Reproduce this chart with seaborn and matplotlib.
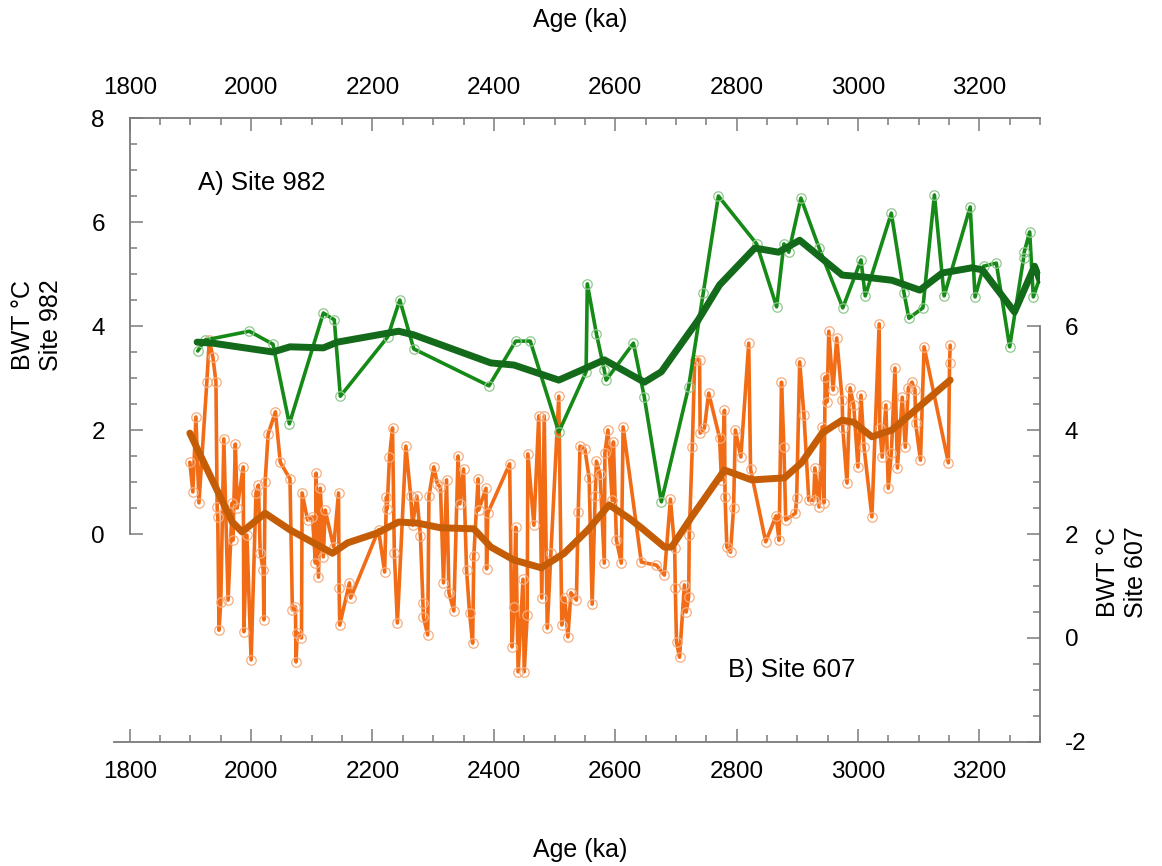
import matplotlib
matplotlib.use("Agg")
import matplotlib.pyplot as plt
import seaborn as sns
from matplotlib.ticker import FixedLocator, MultipleLocator

# ---------------- data ----------------
# Site 982 (left axis, BWT degC)
g_age = [1912, 1924, 1997, 2036, 2063, 2119, 2137, 2147, 2225, 2245, 2268, 2392,
         2436, 2460, 2507, 2552, 2554, 2569, 2582, 2585, 2630, 2648, 2676, 2721,
         2745, 2770, 2833, 2866, 2878, 2886, 2906, 2936, 2975, 3005, 3012, 3055,
         3076, 3084, 3107, 3126, 3142, 3185, 3193, 3207, 3228, 3250, 3273, 3274,
         3283, 3289, 3300]
g_bwt = [3.52, 3.73, 3.90, 3.65, 2.12, 4.25, 4.12, 2.65, 3.79, 4.50, 3.56, 2.85,
         3.71, 3.71, 1.96, 3.12, 4.81, 3.85, 3.15, 2.96, 3.67, 2.63, 0.62, 2.83,
         4.63, 6.50, 5.58, 4.37, 5.58, 5.42, 6.46, 5.50, 4.35, 5.27, 4.58, 6.17,
         4.63, 4.15, 4.35, 6.52, 4.58, 6.29, 4.56, 5.15, 5.21, 3.60, 5.31, 5.42,
         5.81, 4.56, 4.94]
# Site 982 smoothed
gs_age = [1911, 1937, 2036, 2064, 2119, 2142, 2243, 2268, 2395, 2433, 2507, 2544,
          2582, 2648, 2676, 2737, 2772, 2830, 2869, 2904, 2974, 3012, 3056, 3102,
          3139, 3188, 3205, 3258, 3291, 3300]
gs_bwt = [3.69, 3.67, 3.50, 3.60, 3.58, 3.69, 3.90, 3.83, 3.29, 3.25, 2.96, 3.15,
          3.35, 2.92, 3.12, 4.12, 4.79, 5.50, 5.42, 5.65, 4.98, 4.94, 4.88, 4.69,
          5.02, 5.12, 5.08, 4.27, 5.15, 4.88]

# Site 607 (right axis, BWT degC)
o_age = [1899, 1904, 1909, 1914, 1927, 1931, 1937, 1942, 1944, 1945, 1947, 1950,
         1955, 1962, 1969, 1970, 1974, 1977, 1987, 1988, 1993, 2000, 2008, 2012,
         2015, 2020, 2021, 2023, 2028, 2040, 2048, 2064, 2068, 2073, 2074, 2076,
         2083, 2084, 2093, 2101, 2106, 2107, 2111, 2114, 2119, 2122, 2136, 2144,
         2145, 2146, 2162, 2164, 2210, 2220, 2223, 2224, 2228, 2233, 2236, 2241,
         2255, 2263, 2266, 2273, 2279, 2283, 2284, 2291, 2293, 2301, 2307, 2312,
         2317, 2322, 2326, 2334, 2341, 2344, 2350, 2355, 2360, 2365, 2367, 2374,
         2375, 2387, 2388, 2390, 2426, 2430, 2433, 2436, 2440, 2448, 2450, 2455,
         2456, 2466, 2474, 2479, 2483, 2488, 2494, 2507, 2512, 2517, 2522, 2527,
         2536, 2539, 2542, 2550, 2557, 2562, 2567, 2569, 2575, 2582, 2583, 2588,
         2595, 2597, 2602, 2610, 2613, 2643, 2668, 2681, 2691, 2698, 2699, 2701,
         2706, 2714, 2717, 2721, 2722, 2727, 2731, 2739, 2740, 2747, 2754, 2772,
         2775, 2780, 2781, 2784, 2790, 2795, 2798, 2807, 2820, 2823, 2848, 2865,
         2870, 2874, 2878, 2881, 2897, 2899, 2904, 2911, 2919, 2927, 2929, 2936,
         2941, 2944, 2946, 2949, 2952, 2959, 2965, 2974, 2975, 2982, 2987, 2993,
         3000, 3005, 3010, 3023, 3035, 3036, 3040, 3046, 3050, 3055, 3061, 3065,
         3073, 3078, 3083, 3089, 3094, 3095, 3103, 3109, 3149, 3151, 3152]
o_bwt = [3.38, 2.81, 4.25, 2.60, 4.92, 5.73, 5.40, 4.92, 2.52, 2.33, 0.15, 0.69,
         3.83, 0.73, 2.60, 1.88, 3.73, 2.50, 3.29, 0.12, 1.98, -0.42, 2.79, 2.94,
         1.63, 1.31, 0.35, 3.00, 3.92, 4.35, 3.38, 3.06, 0.54, 0.60, -0.46, 0.10,
         0.00, 2.79, 2.27, 2.33, 1.44, 3.17, 1.17, 2.88, 1.56, 2.46, 1.75, 2.79,
         0.96, 0.25, 1.06, 0.77, 2.08, 1.27, 2.71, 2.48, 3.48, 4.04, 1.63, 0.29,
         3.69, 2.73, 2.17, 2.73, 1.96, 0.67, 0.40, 0.06, 2.73, 3.29, 2.96, 2.90,
         1.06, 3.04, 0.87, 0.52, 3.50, 2.58, 3.25, 1.31, 0.48, -0.10, 1.58, 3.06,
         2.46, 2.88, 1.33, 2.40, 3.35, -0.17, 0.60, 2.13, -0.65, 1.13, -0.65, 0.44,
         3.54, 2.17, 4.27, 0.77, 4.27, 0.19, 1.63, 4.65, 0.25, 0.77, 0.02, 0.87,
         0.73, 2.42, 3.69, 3.63, 3.08, 0.65, 2.73, 3.40, 3.15, 1.44, 3.56, 4.00,
         2.65, 3.77, 1.88, 1.44, 4.06, 1.46, 1.40, 1.21, 2.67, 1.73, 0.96, -0.08,
         -0.37, 1.02, 0.50, 0.79, 1.98, 3.67, 5.35, 5.35, 3.94, 4.04, 4.71, 3.85,
         3.04, 4.38, 2.71, 1.75, 1.65, 2.50, 4.00, 3.48, 5.67, 3.25, 1.85, 2.35,
         1.88, 4.92, 3.67, 2.27, 2.40, 2.69, 5.31, 4.29, 2.65, 2.65, 3.27, 2.52,
         4.06, 2.60, 5.02, 4.54, 5.90, 4.77, 5.77, 4.58, 4.04, 2.98, 4.81, 4.48,
         3.29, 4.67, 3.67, 2.33, 6.04, 4.04, 3.48, 4.48, 2.88, 3.56, 5.19, 3.27,
         4.63, 3.67, 4.81, 4.92, 4.77, 4.13, 3.42, 5.60, 3.37, 5.29, 5.63]
# Site 607 smoothed
os_age = [1899, 1969, 1985, 2023, 2064, 2134, 2159, 2208, 2243, 2274, 2312, 2367,
          2395, 2433, 2478, 2516, 2555, 2590, 2622, 2643, 2681, 2693, 2726, 2780,
          2825, 2879, 2907, 2941, 2974, 2993, 3023, 3056, 3094, 3152]
os_bwt = [3.94, 2.23, 2.04, 2.40, 2.08, 1.63, 1.83, 2.02, 2.23, 2.21, 2.12, 2.10,
          1.75, 1.50, 1.35, 1.63, 2.08, 2.56, 2.31, 2.12, 1.75, 1.75, 2.33, 3.23,
          3.04, 3.08, 3.37, 3.94, 4.19, 4.15, 3.87, 4.00, 4.38, 4.96]

left_major = [0, 2, 4, 6, 8]
right_major = [-2, 0, 2, 4, 6]
x_major = [1800, 2000, 2200, 2400, 2600, 2800, 3000, 3200]

# ---------------- style ----------------
sns.set_style("ticks")
plt.rcParams["font.family"] = ["Liberation Sans", "DejaVu Sans"]
plt.rcParams["axes.unicode_minus"] = False
plt.rcParams["text.color"] = "black"
plt.rcParams["axes.labelcolor"] = "black"
plt.rcParams["xtick.labelcolor"] = "black"
plt.rcParams["ytick.labelcolor"] = "black"

GREEN = "#168a16"
GREEN_DARK = "#136a1a"
GREEN_MK = "#8fc98f"
ORANGE = "#f26c16"
ORANGE_DARK = "#c55c06"
ORANGE_MK = "#f6ae80"
AX_GREY = "#7a7a7a"

fig = plt.figure(figsize=(11.62, 8.66), dpi=100)
ax = fig.add_axes([0.0981, 0.1432, 0.7969, 0.7205])
ax2 = ax.twinx()

# orange series on right axis
sns.lineplot(x=o_age, y=o_bwt, ax=ax2, estimator=None, sort=False, color=ORANGE,
             lw=2.6, marker="o", markersize=6.8, markerfacecolor="none",
             markeredgecolor=ORANGE_MK, markeredgewidth=0.9, zorder=2)
sns.lineplot(x=os_age, y=os_bwt, ax=ax2, estimator=None, sort=False,
             color=ORANGE_DARK, lw=5.0, solid_joinstyle="round",
             solid_capstyle="round", zorder=3)

# green series on left axis
sns.lineplot(x=g_age, y=g_bwt, ax=ax, estimator=None, sort=False, color=GREEN,
             lw=2.6, marker="o", markersize=6.8, markerfacecolor="none",
             markeredgecolor=GREEN_MK, markeredgewidth=0.9, zorder=2)
sns.lineplot(x=gs_age, y=gs_bwt, ax=ax, estimator=None, sort=False,
             color=GREEN_DARK, lw=5.0, solid_joinstyle="round",
             solid_capstyle="round", zorder=3)

ax.set_zorder(ax2.get_zorder() + 1)
ax.patch.set_visible(False)

# limits
ax.set_xlim(1774, 3300)
ax.set_ylim(-4, 8)
ax2.set_ylim(-2, 10)

# spines
for s in list(ax.spines.values()) + list(ax2.spines.values()):
    s.set_color(AX_GREY)
    s.set_linewidth(1.3)
ax.spines["right"].set_visible(False)
ax.spines["left"].set_position(("data", 1800))
ax.spines["left"].set_bounds(0, 8)
ax.spines["top"].set_bounds(1800, 3300)
ax2.spines["left"].set_visible(False)
ax2.spines["top"].set_visible(False)
ax2.spines["bottom"].set_visible(False)
ax2.spines["right"].set_bounds(-2, 6)

# ticks
ax.xaxis.set_major_locator(FixedLocator(x_major))
ax.xaxis.set_minor_locator(MultipleLocator(50))
ax.yaxis.set_major_locator(FixedLocator(left_major))
ax.yaxis.set_minor_locator(FixedLocator([v / 2 for v in range(1, 16) if v % 4 != 0]))
ax2.yaxis.set_major_locator(FixedLocator(right_major))
ax2.yaxis.set_minor_locator(FixedLocator([v / 2 for v in range(-3, 12) if v % 4 != 0]))

ax.tick_params(axis="x", which="both", direction="in", top=True, bottom=True,
               labeltop=True, labelbottom=True, color=AX_GREY, width=1.1)
ax.tick_params(axis="x", which="major", length=9.5, pad=14, labelsize=17.5)
ax.tick_params(axis="x", which="minor", length=5)
ax.tick_params(axis="y", which="both", direction="in", left=True, right=False,
               color=AX_GREY, width=1.1)
ax.tick_params(axis="y", which="major", length=9.5, pad=18, labelsize=17.5)
ax.tick_params(axis="y", which="minor", length=5)
ax2.tick_params(axis="y", which="both", direction="in", color=AX_GREY, width=1.1)
ax2.tick_params(axis="y", which="major", length=9.5, pad=18, labelsize=17.5)
ax2.tick_params(axis="y", which="minor", length=5)

# labels
ax.set_ylabel("BWT °C\nSite 982", fontsize=18, ha="center", va="center",
              rotation_mode="anchor")
ax.yaxis.set_label_coords(-0.083, 0.668)
ax2.set_ylabel("BWT °C\nSite 607", fontsize=18, ha="center", va="center",
               rotation_mode="anchor")
ax2.yaxis.set_label_coords(1.0886, 0.2724)
fig.text(0.4995, 0.977, "Age (ka)", fontsize=18, ha="center", va="center")
fig.text(0.4995, 0.0185, "Age (ka)", fontsize=18, ha="center", va="center")

ax.text(1912, 6.75, "A) Site 982", fontsize=18.5, ha="left", va="center")
ax.text(2786, -2.62, "B) Site 607", fontsize=18.5, ha="left", va="center")

fig.savefig("out.png", dpi=100)
